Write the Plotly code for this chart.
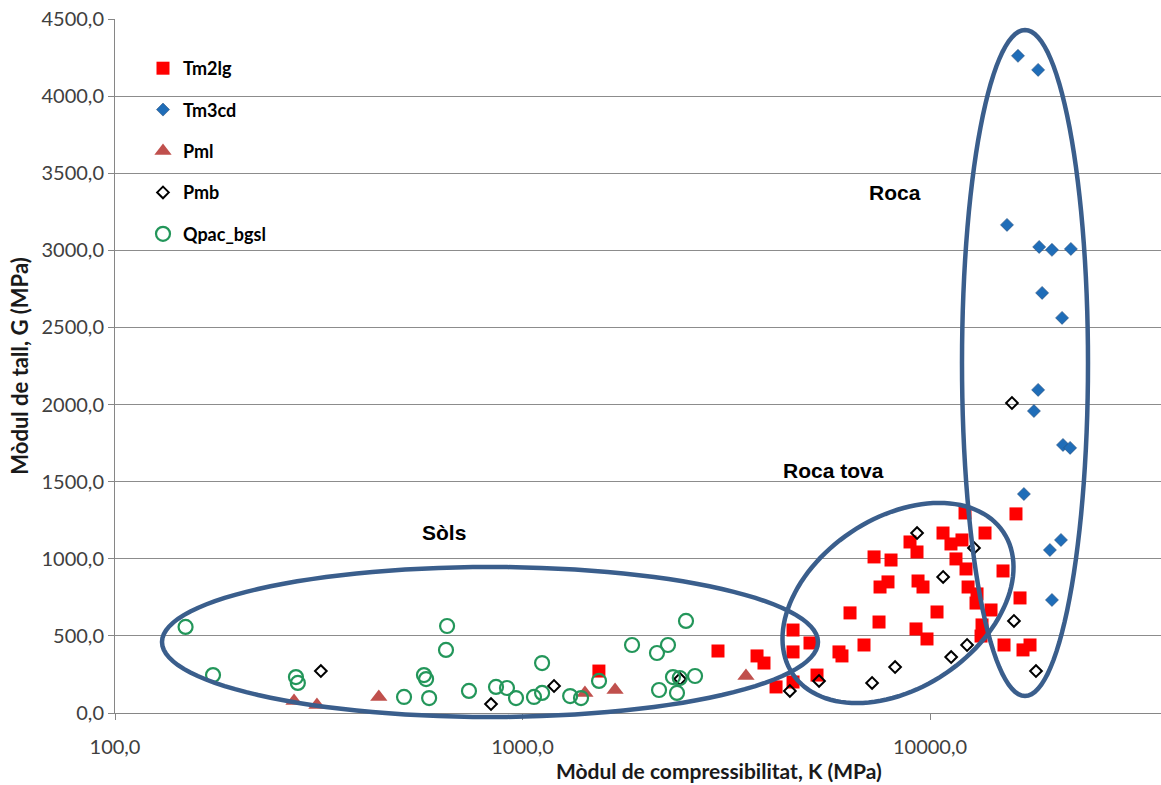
import math
import plotly.graph_objects as go

# Bulk modulus K (MPa) and shear modulus G (MPa) per geological unit
tm2lg_k = [1540, 3018, 3763, 3914, 4190, 4612, 5076, 4612, 4612, 5281, 5979, 6081, 6887,
           6364, 7497, 7289, 8023, 7887, 7540, 8932, 9292, 9346, 9612, 10404, 9240, 9832,
           10763, 11258, 11581, 12257, 12188, 13646, 12400, 13044, 12970, 14117, 13417,
           13343, 15107, 16255, 16630, 15193, 16914, 17596, 11980]
tm2lg_g = [272, 402, 370, 324, 169, 538, 454, 396, 201, 246, 396, 370, 441,
           649, 590, 1012, 992, 850, 817, 1109, 1044, 856, 817, 655, 545, 480,
           1167, 1096, 999, 934, 1297, 1167, 817, 772, 713, 668, 571,
           499, 921, 1291, 746, 441, 409, 441, 1122]

tm3cd_k = [16440, 18420, 15450, 18530, 19920, 22170, 18840, 21090, 18420, 17990,
           21200, 22070, 17000, 20960, 19690, 19920]
tm3cd_g = [4261, 4170, 3165, 3022, 3003, 3009, 2724, 2562, 2095, 1958,
           1738, 1719, 1420, 1122, 1057, 733]

pml_k = [275, 313, 444, 1423, 1687, 3535]
pml_g = [78, 52, 104, 130, 149, 240]

pmb_k = [320, 837, 1195, 2436, 4530, 5342, 7209, 8210, 9295, 10770, 11270, 12330,
         12820, 15890, 16070, 18200]
pmb_g = [272, 58, 175, 220, 143, 208, 195, 298, 1167, 882, 363, 441,
         1070, 2010, 597, 272]

qpac_k = [149, 174, 278, 281, 573, 580, 590, 653, 649, 512, 739, 861, 916, 964, 1067,
          1117, 1117, 1309, 1392, 1541, 1857, 2138, 2275, 2163, 2340, 2394, 2519,
          2651, 2432]
qpac_g = [558, 246, 233, 195, 246, 220, 97, 564, 409, 104, 143, 169, 162, 97, 104,
          130, 324, 110, 97, 208, 441, 389, 441, 149, 233, 130, 597,
          240, 227]

y_ticks = [0, 500, 1000, 1500, 2000, 2500, 3000, 3500, 4000, 4500]
y_labels = ["0,0", "500,0", "1000,0", "1500,0", "2000,0", "2500,0", "3000,0",
            "3500,0", "4000,0", "4500,0"]
x_ticks = [100, 1000, 10000]
x_labels = ["100,0", "1000,0", "10000,0"]

W, H = 1161, 785
ML, MR, MT, MB = 115, 0, 19, 72
PW, PH = W - ML - MR, H - MT - MB

FONT = "Lato"
TITLE_COLOR = "#1a1a1a"
fig = go.Figure()

series = [
    ("Tm2lg", tm2lg_k, tm2lg_g, dict(symbol="square", size=13, color="#FF0000",
                                      line=dict(width=0))),
    ("Tm3cd", tm3cd_k, tm3cd_g, dict(symbol="diamond", size=10, color="#1F6DB8",
                                      line=dict(width=0.6, color="#2a4f7a"))),
    ("Pml", pml_k, pml_g, dict(symbol="triangle-up", size=15, color="#C0504D",
                                line=dict(width=0))),
    ("Pmb", pmb_k, pmb_g, dict(symbol="diamond-open", size=9, color="#000000",
                                line=dict(width=2, color="#000000"))),
    ("Qpac_bgsl", qpac_k, qpac_g, dict(symbol="circle-open", size=14, color="#23965A",
                                        line=dict(width=2.2, color="#23965A"))),
]
for name, k, g, mk in series:
    fig.add_trace(go.Scatter(x=k, y=g, mode="markers", name=name, marker=mk,
                             legendgroup=name))


def to_paper(px, py):
    return (px - ML) / PW, (MT + PH - py) / PH


def ellipse_path(cx, cy, rx, ry, angle_deg, n=120):
    a = math.radians(angle_deg)
    pts = []
    for i in range(n):
        t = 2 * math.pi * i / n
        ex = rx * math.cos(t)
        ey = ry * math.sin(t)
        px = cx + ex * math.cos(a) + ey * math.sin(a)
        py = cy - ex * math.sin(a) + ey * math.cos(a)
        pts.append(to_paper(px, py))
    return "M " + " L ".join(f"{x:.5f},{y:.5f}" for x, y in pts) + " Z"


# Region outlines (pixel geometry of the plotting area)
outlines = [
    (490, 642, 328, 75, 0),      # soils
    (898, 603, 127, 85, 34),     # soft rock
    (1025, 363, 63, 333, 0),     # rock
]
for cx, cy, rx, ry, ang in outlines:
    fig.add_shape(type="path", xref="paper", yref="paper",
                  path=ellipse_path(cx, cy, rx, ry, ang),
                  line=dict(color="#3A5E8C", width=4.5), fillcolor="rgba(0,0,0,0)")

labels = [("Roca", 895, 192), ("Roca tova", 833, 470), ("Sòls", 444, 532)]
for text, px, py in labels:
    x, y = to_paper(px, py)
    fig.add_annotation(text=f"<b>{text}</b>", x=x, y=y, xref="paper", yref="paper",
                       xanchor="center", yanchor="middle", showarrow=False,
                       font=dict(family="Liberation Sans", size=21, color="#000000"))

# x-axis title, centred on the full log axis span
tx, ty = to_paper(719, 770)
fig.add_annotation(text="<b>Mòdul de compressibilitat, K (MPa)</b>", x=tx, y=ty,
                   xref="paper", yref="paper", xanchor="center", yanchor="middle",
                   showarrow=False, font=dict(family=FONT, size=21, color=TITLE_COLOR))

fig.update_layout(
    width=W, height=H,
    margin=dict(l=ML, r=MR, t=MT, b=MB),
    paper_bgcolor="white", plot_bgcolor="white",
    font=dict(family=FONT, color="#404040"),
    showlegend=True,
    legend=dict(x=(143 - ML) / PW, y=(713 - 50) / PH, xanchor="left", yanchor="top",
                bgcolor="rgba(0,0,0,0)", tracegroupgap=15,
                font=dict(family=FONT, size=18, color="#000000", weight="bold")),
    xaxis=dict(type="log", range=[2, math.log10(100) + PW / 407.5],
               tickvals=x_ticks, ticktext=x_labels, showgrid=False, zeroline=False,
               showline=True, linecolor="#868686", linewidth=1,
               ticks="outside", ticklen=6, tickcolor="#868686",
               ticklabelstandoff=10,
               tickfont=dict(family=FONT, size=20, color="#404040")),
    yaxis=dict(range=[0, 4500], tickvals=y_ticks, ticktext=y_labels,
               showgrid=True, gridcolor="#8C8C8C", gridwidth=1, zeroline=False,
               showline=True, linecolor="#868686", linewidth=1,
               ticks="outside", ticklen=6, tickcolor="#868686",
               tickfont=dict(family=FONT, size=20, color="#404040"),
               title=dict(text="<b>Mòdul de tall, G (MPa)</b>",
                          font=dict(family=FONT, size=22, color=TITLE_COLOR), standoff=6)),
)

fig.write_html("out.html")
